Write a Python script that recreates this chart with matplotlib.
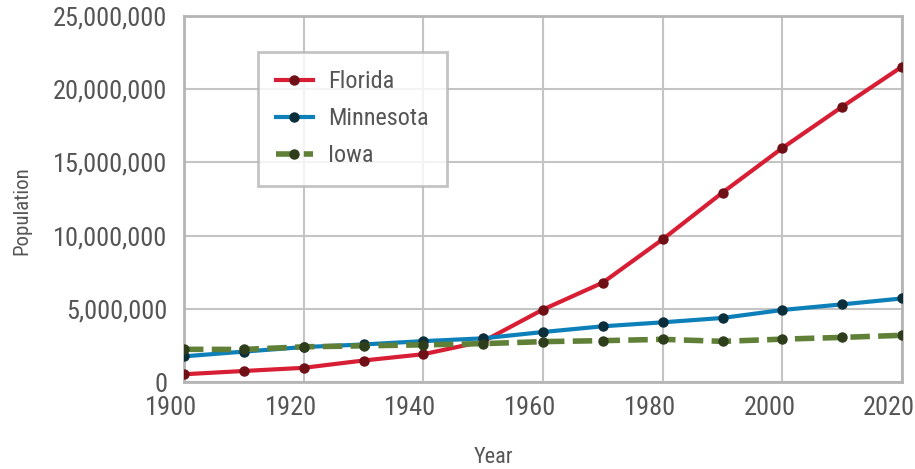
import matplotlib
matplotlib.use("Agg")
import matplotlib.pyplot as plt
import matplotlib.transforms as mtransforms
from matplotlib.ticker import FuncFormatter, MultipleLocator

years = [1900, 1910, 1920, 1930, 1940, 1950, 1960, 1970, 1980, 1990, 2000, 2010, 2020]
florida = [528542, 752619, 968470, 1468211, 1897414, 2771305, 4951560,
           6789443, 9746324, 12937926, 15982378, 18801310, 21538187]
minnesota = [1751394, 2075708, 2387125, 2563953, 2792300, 2982483, 3413864,
             3804971, 4075970, 4375099, 4919479, 5303925, 5706494]
iowa = [2231853, 2224771, 2404021, 2470939, 2538268, 2621073, 2757537,
        2824376, 2913808, 2776755, 2926324, 3046355, 3190369]

plt.rcParams['font.family'] = ['Roboto Condensed', 'Archivo Narrow', 'Roboto', 'DejaVu Sans']
txt = '#555555'
grid = '#c4c4c4'

fig = plt.figure(figsize=(9.15, 4.69), dpi=100)
ax = fig.add_axes([184 / 915, 1 - 382 / 469, 718 / 915, 366 / 469])

ax.plot(years, florida, color='#d81e34', lw=3, marker='o', ms=6.5,
        mfc='#6e1016', mec='#6e1016', label='Florida', zorder=3)
ax.plot(years, minnesota, color='#0d80b9', lw=3, marker='o', ms=6.5,
        mfc='#0b2e3b', mec='#0b2e3b', label='Minnesota', zorder=3)
ax.plot(years, iowa, color='#5f8036', lw=4, ls=(0, (3.5, 1.5)), marker='o', ms=6.5,
        mfc='#2e3d1b', mec='#2e3d1b', label='Iowa', zorder=4)

ax.set_xlim(1900, 2020)
ax.set_ylim(0, 25000000)
ax.xaxis.set_major_locator(MultipleLocator(20))
ax.yaxis.set_major_locator(MultipleLocator(5000000))
ax.yaxis.set_major_formatter(FuncFormatter(lambda v, p: f'{int(v):,}'))
ax.grid(True, color=grid, lw=1.5)
ax.set_axisbelow(True)
for s in ax.spines.values():
    s.set_color('#b5b5b5')
    s.set_linewidth(2)
ax.tick_params(length=0, labelsize=19, colors=txt)
ax.tick_params(axis='y', pad=12)
ax.tick_params(axis='x', pad=10)

# labels in the original sit a bit left of their gridlines
shift = mtransforms.ScaledTranslation(-13 / 100, 0, fig.dpi_scale_trans)
for lab in ax.get_xticklabels():
    lab.set_transform(lab.get_transform() + shift)

fig.text(22 / 915, 1 - 211 / 469, 'Population', rotation=90, ha='center',
         va='center', fontsize=15, color=txt)
fig.text(493 / 915, 1 - 457 / 469, 'Year', ha='center', va='center',
         fontsize=16, color=txt)

leg = ax.legend(loc='upper left', bbox_to_anchor=((258 - 184) / 718, (382 - 52) / 366),
                fontsize=17.5, frameon=True, fancybox=False, handlelength=1.5,
                borderpad=0.75, labelspacing=0.58, handletextpad=0.65,
                borderaxespad=0)
leg.get_frame().set_edgecolor('#b5b5b5')
leg.get_frame().set_linewidth(2)
for t in leg.get_texts():
    t.set_color(txt)

fig.savefig('out.png', dpi=100)
